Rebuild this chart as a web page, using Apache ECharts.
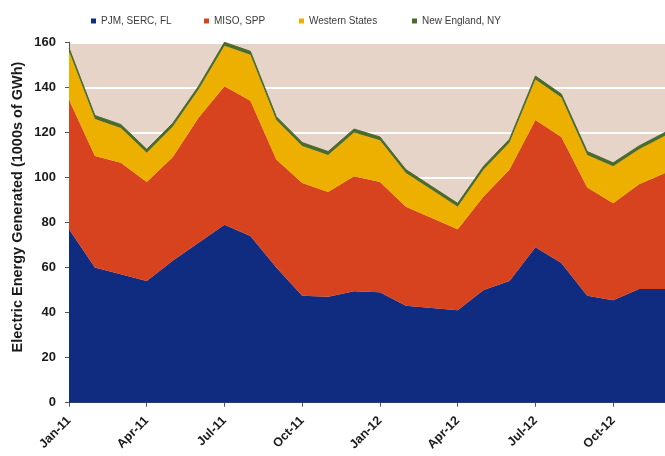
<!DOCTYPE html>
<html>
<head>
<meta charset="utf-8">
<script src="https://cdn.jsdelivr.net/npm/echarts@6/dist/echarts.min.js"></script>
<style>html,body{margin:0;padding:0;background:#fff;}#c{width:665px;height:456px;}</style>
</head>
<body>
<div id="c"></div>
<script>
const months = ["Jan-11","Feb-11","Mar-11","Apr-11","May-11","Jun-11","Jul-11","Aug-11","Sep-11","Oct-11","Nov-11","Dec-11",
                "Jan-12","Feb-12","Mar-12","Apr-12","May-12","Jun-12","Jul-12","Aug-12","Sep-12","Oct-12","Nov-12","Dec-12"];
const pjm = [77, 60, 57, 54, 63, 71, 79, 74, 60, 47.5, 47, 49.5, 49, 43, 42, 41, 50, 54, 69, 62, 47.5, 45.5, 50.5, 50.5];
const miso = [57.5, 49.5, 49.5, 44, 46, 55.5, 61.5, 60, 48, 50, 46.5, 51, 49, 44, 40, 36, 41.5, 49.5, 56.5, 56, 48, 43, 46.5, 51.5];
const western = [21.5, 16.5, 15.5, 13, 13.5, 12.5, 18, 20.5, 17.5, 16.5, 16.5, 19.5, 18.5, 15, 12.5, 10, 12, 12, 18, 17.5, 14.5, 16.5, 15.5, 16.5];
const newEngland = [1.5, 1.5, 1.5, 1.5, 1.5, 1.5, 1.5, 1.5, 1.5, 1.5, 1.5, 1.5, 1.5, 1.5, 1.5, 1.5, 1.5, 1.5, 1.5, 1.5, 1.5, 1.5, 1.5, 1.5];
const seriesNames = ['PJM, SERC, FL', 'MISO, SPP', 'Western States', 'New England, NY'];
const yTicks = [0, 20, 40, 60, 80, 100, 120, 140, 160];
const yTitle = 'Electric Energy Generated (1000s of GWh)';

const chart = echarts.init(document.getElementById('c'), null, {renderer: 'canvas'});
function s(name, data, color, lw) {
  return {
    name: name, type: 'line', stack: 'total', data: data, showSymbol: false, symbol: 'none',
    itemStyle: {color: color},
    lineStyle: {width: lw, color: color},
    areaStyle: {color: color, opacity: 1},
    emphasis: {disabled: true}
  };
}
const legendLefts = [86, 199, 294, 407];
const font = 'Liberation Sans, Arial, sans-serif';
chart.setOption({
  animation: false,
  textStyle: {fontFamily: font},
  legend: seriesNames.map((n, i) => ({
    top: 11, left: legendLefts[i], icon: 'rect', itemWidth: 5, itemHeight: 5, itemGap: 0,
    textStyle: {fontSize: 10, color: '#3a3a3a', fontFamily: font},
    data: [n]
  })),
  graphic: [{
    type: 'text', x: 18, y: 207, rotation: Math.PI / 2,
    style: {text: yTitle, fontSize: 14.5, fontWeight: 'bold', fill: '#1a1a1a', fontFamily: font,
      align: 'center', verticalAlign: 'middle'}
  }],
  grid: {left: 69, top: 42.3, bottom: 53.3, right: -4, show: true, backgroundColor: '#E7D4C9', borderWidth: 0, containLabel: false},
  xAxis: {
    type: 'category', data: months, boundaryGap: false,
    axisLine: {lineStyle: {color: '#555', width: 1}},
    axisTick: {interval: 2, length: 4, lineStyle: {color: '#555'}},
    axisLabel: {interval: 2, rotate: 45, fontSize: 12.5, fontWeight: 'bold', color: '#1a1a1a', margin: 16},
    splitLine: {show: false}
  },
  yAxis: {
    type: 'value', min: 0, max: 160, interval: 20,
    axisLine: {show: true, lineStyle: {color: '#555', width: 1}},
    axisTick: {show: true, length: 4, lineStyle: {color: '#555'}},
    axisLabel: {fontSize: 13, fontWeight: 'bold', color: '#1a1a1a', margin: 13,
      formatter: v => yTicks.includes(v) ? String(v) : ''},
    splitLine: {show: true, lineStyle: {color: '#FFFFFF', width: 2}}
  },
  series: [
    s(seriesNames[0], pjm, '#102C80', 0),
    s(seriesNames[1], miso, '#D8431F', 0),
    s(seriesNames[2], western, '#EDB000', 0),
    s(seriesNames[3], newEngland, '#4B6B2B', 1)
  ]
});
</script>
</body>
</html>
